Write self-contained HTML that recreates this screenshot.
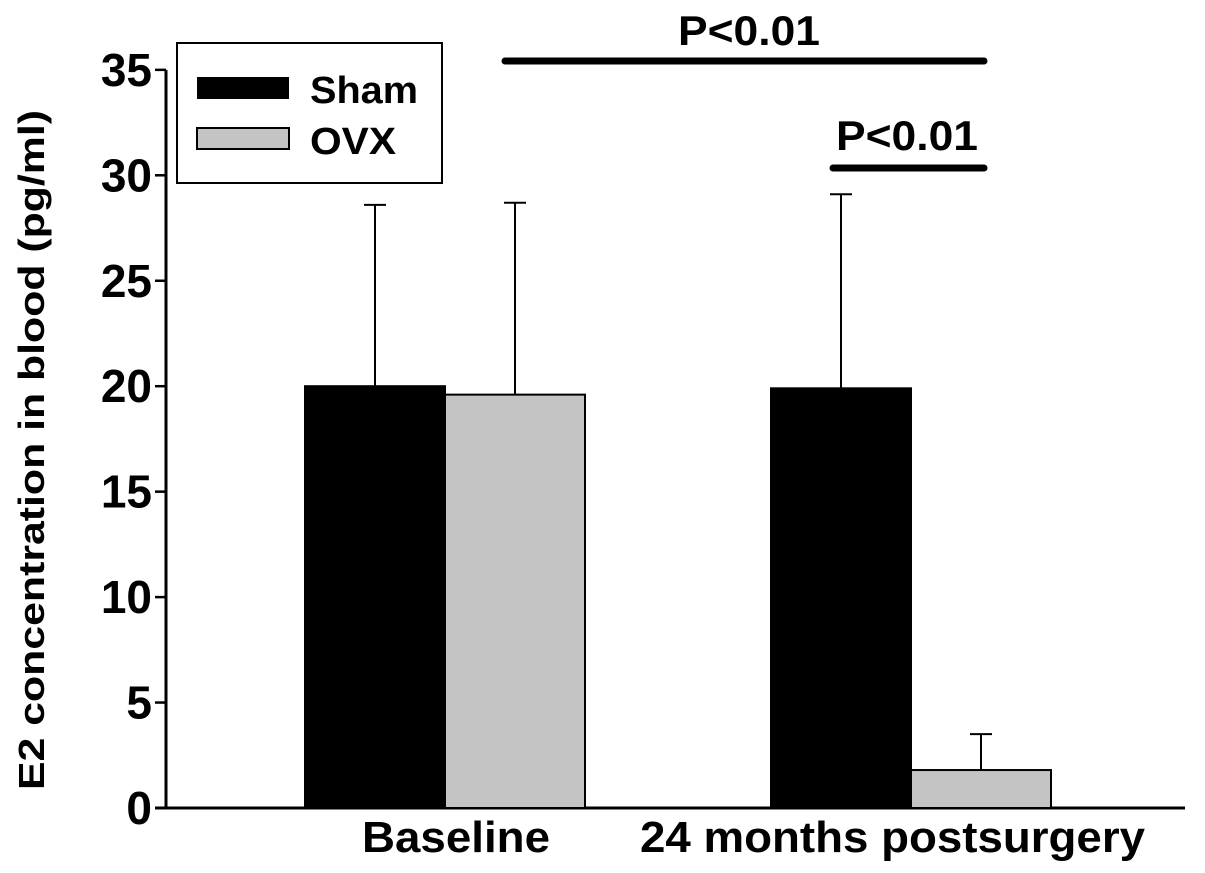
<!DOCTYPE html>
<html><head><meta charset="utf-8"><style>
body{margin:0;background:#fff}
svg{display:block;font-family:"Liberation Sans",Arial,sans-serif;font-weight:bold}
</style></head><body>
<svg id="chart" width="1205" height="873">
<g id="axes"></g><g id="bars"></g>
<text transform="translate(44,450) rotate(-90)" text-anchor="middle" font-size="36" textLength="680" lengthAdjust="spacingAndGlyphs">E2 concentration in blood (pg/ml)</text>
<g>
<rect x="177" y="43" width="265" height="140" fill="#fff" stroke="#000" stroke-width="2"/>
<rect x="197" y="77" width="92" height="22" fill="#000"/>
<text x="310" y="103" font-size="38" textLength="108" lengthAdjust="spacingAndGlyphs">Sham</text>
<rect x="197" y="128" width="92" height="21" fill="#c4c4c4" stroke="#000" stroke-width="2"/>
<text x="310" y="154" font-size="38" textLength="86" lengthAdjust="spacingAndGlyphs">OVX</text>
</g>
<g>
<line x1="505" y1="61" x2="984" y2="61" stroke="#000" stroke-width="7" stroke-linecap="round"/>
<text x="678" y="45" font-size="42" textLength="142" lengthAdjust="spacingAndGlyphs">P&lt;0.01</text>
<line x1="833" y1="168" x2="984" y2="168" stroke="#000" stroke-width="7" stroke-linecap="round"/>
<text x="836" y="150" font-size="42" textLength="142" lengthAdjust="spacingAndGlyphs">P&lt;0.01</text>
</g>
</svg>
<script>
const categories=["Baseline","24 months postsurgery"];
const shamValues=[20.0,19.9];
const ovxValues=[19.6,1.8];
const shamErr=[8.6,9.2];
const ovxErr=[9.1,1.7];
const yTicks=[0,5,10,15,20,25,30,35];
const NS="http://www.w3.org/2000/svg";
const y0=808,pxPerUnit=21.09;
function y(v){return y0-v*pxPerUnit;}
const groupStart=[305,771],barW=140;
const labelX=[362,640],labelW=[188,505];
function mk(t,a,p){const e=document.createElementNS(NS,t);for(const k in a)e.setAttribute(k,a[k]);p.appendChild(e);return e;}
const axes=document.getElementById('axes'),bars=document.getElementById('bars');
const ya=mk('line',{x1:166,y1:y(35),x2:166,y2:y0+1,stroke:'#000','stroke-width':3},axes);


const xa=mk('line',{x1:155,y1:y0,x2:1185,y2:y0,stroke:'#000','stroke-width':3},axes);


yTicks.forEach(v=>{
 const t=mk('line',{x1:155,y1:y(v),x2:166,y2:y(v),stroke:'#000','stroke-width':2.5},axes);
 
 
 const l=mk('text',{x:152,y:y(v)+16,'text-anchor':'end','font-size':46},axes);
 l.textContent=v;
 
 
});
categories.forEach((c,i)=>{
 const l=mk('text',{x:labelX[i],y:852,'font-size':44,textLength:labelW[i],lengthAdjust:'spacingAndGlyphs'},axes);
 l.textContent=c;
 
 
 [[shamValues,shamErr,'#000','sham'],[ovxValues,ovxErr,'#c4c4c4','ovx']].forEach(([vals,errs,fill,nm],j)=>{
  const x=groupStart[i]+j*barW,v=vals[i],e=errs[i];
  const cx=x+barW/2;
  const el=mk('line',{x1:cx,y1:y(v),x2:cx,y2:y(v+e),stroke:'#000','stroke-width':2},bars);
  
  
  const cap=mk('line',{x1:cx-11,y1:y(v+e),x2:cx+11,y2:y(v+e),stroke:'#000','stroke-width':2},bars);
  
  
  const r=mk('rect',{x:x,y:y(v),width:barW,height:y0-y(v),fill:fill,stroke:'#000','stroke-width':2},bars);
  
  
 });
});
</script>
</body></html>
